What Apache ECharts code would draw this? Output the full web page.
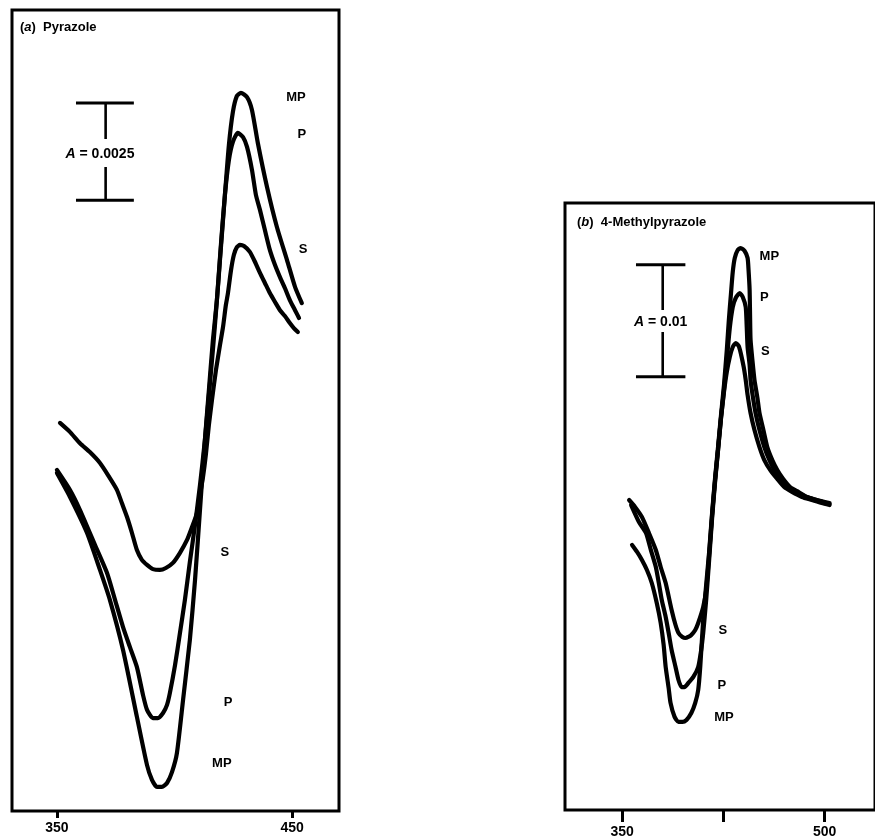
<!DOCTYPE html>
<html><head><meta charset="utf-8">
<script src="https://cdn.jsdelivr.net/npm/echarts@6/dist/echarts.min.js"></script>
<style>html,body{margin:0;padding:0;background:#fff}#c{width:875px;height:840px}</style>
</head><body><div id="c"></div>
<script>
// Units: x = wavelength (nm), y = difference absorbance in mA (10^-3 A)

// ---- Panel (a) Pyrazole ----
const aMP = [[350.0,-1.31],[355.5,-1.92],[362.8,-2.85],[368.3,-3.80],[372.5,-4.57],[378.1,-5.86],[384.0,-7.58],[388.3,-8.82],[390.4,-9.20],[392.5,-9.38],[394.6,-9.38],[396.8,-9.28],[398.9,-9.00],[401.0,-8.51],[403.6,-7.15],[406.5,-5.60],[408.7,-4.06],[410.8,-2.26],[412.9,-0.46],[414.6,0.83],[416.3,2.11],[418.0,3.14],[419.3,4.17],[421.4,5.84],[423.1,7.13],[424.8,7.98],[426.5,8.39],[428.2,8.47],[430.8,8.36],[432.9,8.03],[435.4,7.18],[439.3,6.05],[443.5,5.02],[447.8,4.17],[451.2,3.48],[454.1,3.06]];
const aP = [[350.0,-1.23],[355.5,-1.74],[359.8,-2.26],[366.2,-3.16],[371.3,-3.88],[374.7,-4.57],[378.1,-5.27],[381.0,-5.78],[384.0,-6.30],[386.6,-7.02],[388.3,-7.40],[390.8,-7.61],[392.9,-7.61],[395.1,-7.48],[396.8,-7.27],[398.0,-6.97],[400.2,-6.25],[402.3,-5.42],[404.4,-4.57],[406.5,-3.60],[408.7,-2.64],[410.8,-1.62],[412.9,-0.46],[414.6,0.70],[416.3,1.86],[418.0,3.14],[419.7,4.56],[421.4,5.84],[423.1,6.74],[424.8,7.21],[426.9,7.44],[429.1,7.33],[430.8,7.08],[432.9,6.49],[434.6,5.84],[436.3,5.46],[438.4,4.94],[440.5,4.43],[442.7,4.04],[444.8,3.73],[446.9,3.45],[449.0,3.14],[451.2,2.88],[452.9,2.68]];
const aS = [[351.3,-0.02],[355.5,-0.25],[359.8,-0.54],[364.0,-0.77],[368.3,-1.05],[371.7,-1.36],[375.5,-1.74],[377.6,-2.08],[379.8,-2.44],[381.9,-2.85],[384.0,-3.29],[386.1,-3.54],[388.3,-3.67],[390.8,-3.78],[393.8,-3.80],[396.3,-3.75],[399.3,-3.62],[402.3,-3.36],[405.3,-3.03],[407.4,-2.70],[409.5,-2.34],[410.8,-1.87],[412.1,-1.41],[413.3,-0.84],[414.6,-0.07],[415.9,0.57],[417.6,1.34],[419.3,1.98],[420.6,2.45],[421.8,3.01],[422.7,3.32],[424.0,3.91],[425.2,4.30],[426.5,4.50],[427.8,4.56],[429.5,4.53],[432.0,4.38],[434.2,4.12],[436.3,3.84],[438.4,3.58],[440.5,3.32],[442.7,3.09],[444.8,2.88],[446.9,2.73],[449.0,2.55],[450.7,2.42],[452.4,2.32]];
const aTicks = [350, 450];
const aTickLabels = [350, 450];
const aLabelNames = ['MP','P','S','S','P','MP'];
const aLabelAt = [[451.6,8.34],[454.1,7.41],[454.6,4.45],[421.4,-3.36],[422.7,-7.20],[420.1,-8.77]];
const aBarText = '{i|A} = 0.0025';
const aBar = {x0:358.1, x1:382.7, xc:370.7, top:8.21, bottom:5.71, gapTop:7.28, gapBottom:6.56, tx:368.3, ty:6.90};

// ---- Panel (b) 4-Methylpyrazole ----
const bMP = [[357.3,-1.52],[361.0,-2.14],[364.6,-2.86],[368.3,-3.75],[371.9,-4.91],[375.6,-6.70],[378.5,-8.48],[380.7,-10.45],[382.2,-12.41],[384.4,-14.29],[385.8,-15.62],[388.8,-16.87],[391.7,-17.32],[394.6,-17.32],[397.6,-17.14],[401.2,-16.52],[404.1,-15.62],[406.3,-14.46],[407.8,-12.41],[410.0,-8.21],[412.2,-5.09],[414.4,-2.14],[416.6,1.34],[418.8,4.47],[421.0,7.23],[423.2,10.09],[425.4,12.77],[427.5,15.90],[429.0,18.57],[430.5,20.81],[431.9,22.86],[433.4,24.11],[435.6,24.82],[437.8,25.00],[440.7,24.73],[442.9,24.11],[443.6,23.04],[444.4,21.25],[444.7,19.20],[445.1,16.79],[446.6,14.82],[448.0,13.22],[450.2,11.61],[451.7,10.27],[454.6,8.75],[457.5,7.23],[461.2,6.07],[464.9,5.18],[469.3,4.38],[474.4,3.66],[479.5,3.30],[486.8,2.77],[494.1,2.50],[503.6,2.23]];
const bP = [[356.6,2.05],[362.4,0.54],[367.6,-0.45],[371.2,-1.96],[374.9,-3.48],[377.1,-4.91],[379.3,-6.43],[382.2,-7.95],[384.4,-9.37],[386.6,-10.89],[389.5,-12.41],[391.7,-13.57],[393.9,-14.20],[396.1,-14.20],[399.0,-13.84],[402.7,-13.30],[406.3,-12.41],[408.5,-10.89],[410.0,-9.37],[412.2,-6.43],[414.4,-2.86],[416.6,0.89],[418.8,4.11],[421.0,6.97],[423.2,9.82],[425.4,12.32],[427.5,15.00],[429.7,17.86],[431.9,19.73],[434.1,20.54],[437.1,20.98],[439.3,20.63],[441.5,19.73],[442.2,18.13],[442.9,16.16],[444.4,14.56],[445.1,13.22],[446.6,11.88],[448.8,10.27],[451.7,8.75],[455.3,7.23],[459.0,6.07],[462.7,5.18],[467.1,4.38],[472.2,3.66],[479.5,3.13],[486.8,2.77],[494.1,2.50],[503.6,2.14]];
const bS = [[355.1,2.50],[359.5,1.88],[364.6,0.98],[369.8,-0.45],[374.9,-1.96],[378.5,-3.48],[382.2,-4.91],[386.6,-7.32],[389.5,-8.66],[391.7,-9.37],[394.6,-9.73],[396.8,-9.82],[399.0,-9.73],[401.2,-9.55],[404.1,-9.11],[406.3,-8.48],[410.0,-7.05],[412.2,-5.53],[414.4,-2.41],[416.6,1.16],[418.8,4.29],[421.0,6.97],[423.2,9.82],[425.4,12.14],[427.5,13.93],[429.7,15.27],[431.9,16.16],[434.1,16.52],[436.3,16.25],[437.8,15.63],[440.0,14.38],[441.5,13.22],[442.9,11.88],[445.1,10.27],[448.0,8.75],[451.7,7.23],[455.3,6.07],[459.7,5.18],[464.9,4.38],[470.0,3.66],[475.8,3.22],[483.2,2.77],[490.5,2.50],[497.8,2.23],[503.6,2.05]];
const bTicks = [350, 425, 500];
const bTickLabels = [350, 500];
const bLabelNames = ['MP','P','S','S','P','MP'];
const bLabelAt = [[459.0,24.29],[455.3,20.63],[456.1,15.81],[424.6,-9.11],[423.9,-14.02],[425.4,-16.87]];
const bBarText = '{i|A} = 0.01';
const bBar = {x0:360.2, x1:396.8, xc:380.0, top:23.5, bottom:13.5, gapTop:19.47, gapBottom:17.50, tx:378.5, ty:18.39};

const FONT = '"Liberation Sans", Arial, Helvetica, sans-serif';
const K = '#000';

function curve(data, g) {
  return {type:'line', xAxisIndex:g, yAxisIndex:g, data:data, symbol:'none', showSymbol:false,
    smooth:0.2, lineStyle:{color:K, width:4.2, cap:'round', join:'round'}, animation:false, silent:true, z:3};
}
function seg(points, g, w) {
  return {type:'line', xAxisIndex:g, yAxisIndex:g, data:points, symbol:'none', showSymbol:false,
    lineStyle:{color:K, width:w, cap:'butt'}, animation:false, silent:true, z:3};
}
function scaleBar(b, g) {
  return [
    seg([[b.x0,b.top],[b.x1,b.top]], g, 3),
    seg([[b.x0,b.bottom],[b.x1,b.bottom]], g, 3),
    seg([[b.xc,b.top],[b.xc,b.gapTop]], g, 2.6),
    seg([[b.xc,b.gapBottom],[b.xc,b.bottom]], g, 2.6)
  ];
}
const rich = {i:{fontStyle:'italic', fontWeight:'bold', fontSize:14, fontFamily:FONT, color:K}};
function labels(names, pos, g, size) {
  return {type:'scatter', xAxisIndex:g, yAxisIndex:g, symbolSize:1, itemStyle:{color:'rgba(0,0,0,0)', opacity:1},
    data:names.map((n,i)=>({name:n, value:pos[i]})),
    label:{show:true, position:'inside', formatter:'{b}', color:K, opacity:1, fontSize:size, fontWeight:'bold', fontFamily:FONT},
    animation:false, silent:true, z:5};
}
function barText(txt, b, g) {
  return {type:'scatter', xAxisIndex:g, yAxisIndex:g, symbolSize:1, itemStyle:{color:'rgba(0,0,0,0)', opacity:1},
    data:[{name:txt, value:[b.tx,b.ty]}],
    label:{show:true, position:'inside', formatter:txt, color:K, opacity:1, fontSize:14, fontWeight:'bold', fontFamily:FONT, rich:rich},
    animation:false, silent:true, z:5};
}
function xAxis(g, min, max, ticks, tickLabels, len, margin) {
  return {type:'value', gridIndex:g, min:min, max:max, splitLine:{show:false},
    axisLine:{show:false, onZero:false},
    axisTick:{show:true, customValues:ticks, length:len, lineStyle:{color:K, width:3}},
    axisLabel:{show:true, customValues:tickLabels, margin:margin, color:K, fontSize:14, fontWeight:'bold', fontFamily:FONT}};
}
function yAxis(g, min, max) {
  return {type:'value', gridIndex:g, min:min, max:max, show:false, splitLine:{show:false}};
}

const option = {
  backgroundColor:'#fff',
  animation:false,
  title:[
    {text:'({i|a})  Pyrazole', left:15, top:16, textStyle:{fontSize:13, fontWeight:'bold', color:K, fontFamily:FONT, rich:{i:{fontStyle:'italic', fontWeight:'bold', fontSize:13, fontFamily:FONT, color:K}}}},
    {text:'({i|b})  4-Methylpyrazole', left:572, top:211, textStyle:{fontSize:13, fontWeight:'bold', color:K, fontFamily:FONT, rich:{i:{fontStyle:'italic', fontWeight:'bold', fontSize:13, fontFamily:FONT, color:K}}}}
  ],
  grid:[
    {left:12, top:10, width:327, height:801, show:true, borderColor:K, borderWidth:3, backgroundColor:'transparent'},
    {left:565, top:203, width:314, height:607, show:true, borderColor:K, borderWidth:3, backgroundColor:'transparent'}
  ],
  xAxis:[
    xAxis(0, 330.9, 469.9, aTicks, aTickLabels, 7, 10),
    xAxis(1, 307.6, 537.3, bTicks, bTickLabels, 12, 15)
  ],
  yAxis:[
    yAxis(0, -10, 10.6),
    yAxis(1, -25.18, 29.02)
  ],
  series:[
    curve(aMP,0), curve(aP,0), curve(aS,0),
    curve(bMP,1), curve(bP,1), curve(bS,1),
    ...scaleBar(aBar,0), ...scaleBar(bBar,1),
    labels(aLabelNames, aLabelAt, 0, 13),
    labels(bLabelNames, bLabelAt, 1, 13),
    barText(aBarText, aBar, 0),
    barText(bBarText, bBar, 1)
  ]
};
const chart = echarts.init(document.getElementById('c'), null, {renderer:'canvas'});
chart.setOption(option);
</script>
</body></html>
